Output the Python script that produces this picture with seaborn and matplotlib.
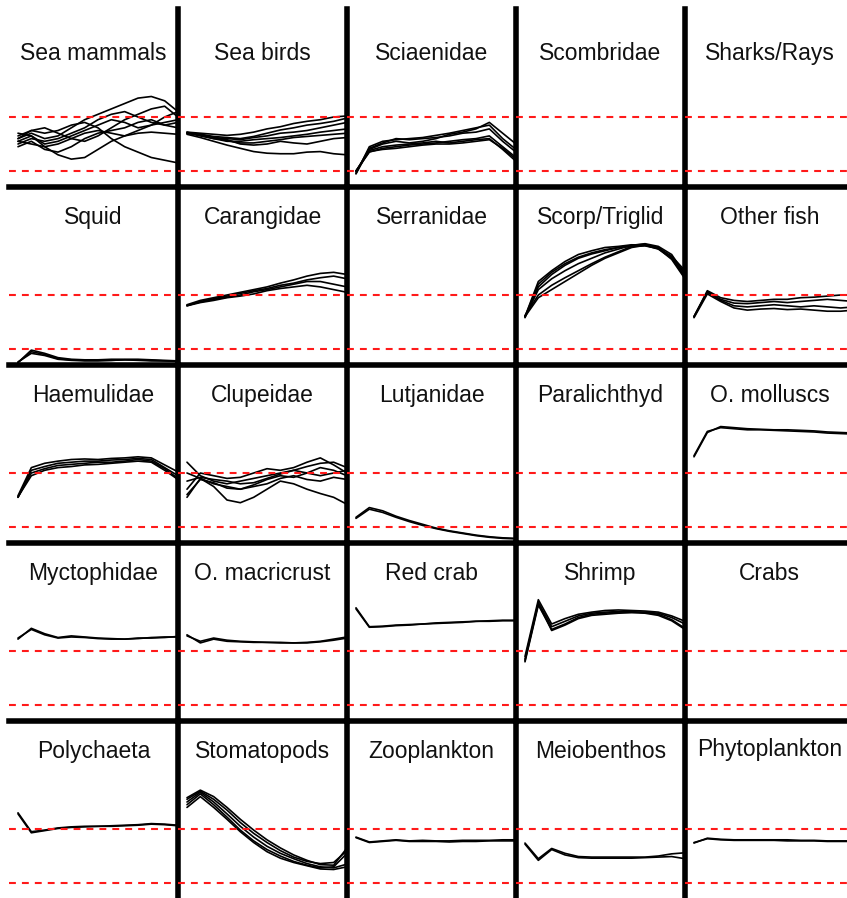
import matplotlib
matplotlib.use('Agg')
import matplotlib.pyplot as plt
import seaborn as sns
import pandas as pd

# time steps (x axis)
years = [0, 1, 2, 3, 4, 5, 6, 7, 8, 9, 10, 11, 12]

# relative biomass runs per group (lower dashed line = 0, upper = 1)
sea_mammals = [
    [0.55, 0.65, 0.45, 0.30, 0.22, 0.25, 0.40, 0.55, 0.65, 0.70, 0.72, 0.70, 0.68],
    [0.60, 0.70, 0.60, 0.65, 0.80, 0.95, 1.05, 1.15, 1.25, 1.35, 1.38, 1.30, 1.10],
    [0.65, 0.75, 0.70, 0.75, 0.85, 0.90, 0.80, 0.60, 0.45, 0.35, 0.25, 0.20, 0.15],
    [0.50, 0.60, 0.55, 0.60, 0.70, 0.80, 0.95, 1.05, 1.10, 1.00, 0.90, 0.85, 0.90],
    [0.70, 0.65, 0.50, 0.55, 0.65, 0.75, 0.85, 0.95, 0.90, 0.80, 0.85, 1.00, 1.10],
    [0.45, 0.55, 0.40, 0.35, 0.45, 0.60, 0.70, 0.75, 0.80, 0.90, 0.95, 0.85, 0.80],
    [0.60, 0.75, 0.80, 0.70, 0.60, 0.55, 0.65, 0.80, 0.95, 1.05, 1.15, 1.20, 1.00],
    [0.55, 0.50, 0.45, 0.50, 0.60, 0.70, 0.75, 0.70, 0.65, 0.75, 0.85, 0.90, 0.95],
]
sea_birds = [
    [0.70, 0.68, 0.62, 0.60, 0.58, 0.62, 0.65, 0.70, 0.72, 0.75, 0.80, 0.85, 0.90],
    [0.68, 0.62, 0.55, 0.48, 0.42, 0.36, 0.33, 0.32, 0.32, 0.35, 0.36, 0.32, 0.30],
    [0.72, 0.70, 0.68, 0.66, 0.68, 0.72, 0.78, 0.82, 0.88, 0.92, 0.95, 1.00, 1.02],
    [0.70, 0.65, 0.60, 0.55, 0.55, 0.58, 0.60, 0.62, 0.65, 0.68, 0.72, 0.75, 0.78],
    [0.72, 0.66, 0.60, 0.58, 0.50, 0.48, 0.50, 0.55, 0.52, 0.50, 0.55, 0.60, 0.62],
    [0.70, 0.68, 0.64, 0.62, 0.60, 0.64, 0.70, 0.76, 0.80, 0.85, 0.88, 0.92, 0.98],
    [0.71, 0.67, 0.62, 0.56, 0.52, 0.52, 0.55, 0.58, 0.62, 0.64, 0.66, 0.68, 0.70],
]
sciaenidae = [
    [-0.05, 0.45, 0.55, 0.58, 0.60, 0.62, 0.66, 0.70, 0.75, 0.80, 0.85, 0.60, 0.40],
    [0.00, 0.35, 0.42, 0.45, 0.48, 0.50, 0.52, 0.55, 0.58, 0.60, 0.65, 0.45, 0.25],
    [-0.05, 0.40, 0.50, 0.55, 0.52, 0.55, 0.60, 0.68, 0.72, 0.78, 0.90, 0.70, 0.50],
    [0.00, 0.38, 0.45, 0.48, 0.50, 0.52, 0.55, 0.52, 0.55, 0.58, 0.60, 0.40, 0.18],
    [-0.02, 0.42, 0.52, 0.60, 0.58, 0.60, 0.62, 0.65, 0.70, 0.72, 0.78, 0.55, 0.35],
    [0.00, 0.36, 0.40, 0.42, 0.45, 0.48, 0.50, 0.50, 0.52, 0.55, 0.58, 0.42, 0.22],
]
squid = [
    [-0.25, -0.05, -0.10, -0.18, -0.20, -0.21, -0.21, -0.21, -0.20, -0.20, -0.21, -0.22, -0.22],
    [-0.25, -0.02, -0.08, -0.16, -0.19, -0.20, -0.20, -0.19, -0.19, -0.19, -0.20, -0.21, -0.22],
    [-0.24, -0.08, -0.12, -0.19, -0.21, -0.22, -0.22, -0.21, -0.20, -0.21, -0.22, -0.22, -0.23],
]
carangidae = [
    [0.80, 0.88, 0.93, 0.98, 1.03, 1.08, 1.12, 1.18, 1.22, 1.28, 1.32, 1.35, 1.30],
    [0.82, 0.90, 0.95, 1.00, 1.05, 1.10, 1.15, 1.22, 1.28, 1.35, 1.40, 1.42, 1.38],
    [0.80, 0.86, 0.90, 0.95, 0.98, 1.02, 1.08, 1.12, 1.15, 1.18, 1.15, 1.10, 1.05],
    [0.81, 0.87, 0.92, 0.96, 1.00, 1.06, 1.10, 1.15, 1.20, 1.25, 1.25, 1.20, 1.15],
]
scorp_triglid = [
    [0.60, 1.10, 1.30, 1.45, 1.58, 1.68, 1.78, 1.85, 1.92, 1.94, 1.88, 1.70, 1.40],
    [0.60, 1.25, 1.45, 1.62, 1.75, 1.82, 1.88, 1.90, 1.93, 1.92, 1.85, 1.68, 1.32],
    [0.62, 1.00, 1.18, 1.32, 1.45, 1.58, 1.70, 1.80, 1.90, 1.93, 1.86, 1.72, 1.45],
    [0.58, 1.15, 1.38, 1.55, 1.68, 1.76, 1.82, 1.88, 1.92, 1.95, 1.90, 1.75, 1.38],
    [0.60, 0.95, 1.10, 1.25, 1.40, 1.55, 1.68, 1.78, 1.88, 1.92, 1.87, 1.70, 1.35],
    [0.60, 1.20, 1.42, 1.58, 1.70, 1.78, 1.84, 1.88, 1.90, 1.91, 1.86, 1.66, 1.30],
]
other_fish = [
    [0.60, 1.08, 0.95, 0.90, 0.88, 0.90, 0.92, 0.92, 0.95, 0.96, 0.98, 1.00, 1.00],
    [0.60, 1.05, 0.90, 0.80, 0.78, 0.80, 0.82, 0.80, 0.78, 0.80, 0.78, 0.76, 0.78],
    [0.58, 1.02, 0.88, 0.76, 0.72, 0.74, 0.75, 0.73, 0.74, 0.72, 0.70, 0.70, 0.72],
    [0.60, 1.06, 0.92, 0.85, 0.84, 0.86, 0.88, 0.86, 0.88, 0.90, 0.92, 0.90, 0.88],
]
haemulidae = [
    [0.55, 1.05, 1.12, 1.18, 1.20, 1.22, 1.22, 1.24, 1.25, 1.27, 1.25, 1.10, 0.95],
    [0.56, 0.95, 1.05, 1.10, 1.12, 1.15, 1.16, 1.18, 1.20, 1.22, 1.20, 1.05, 0.88],
    [0.58, 1.10, 1.18, 1.22, 1.25, 1.26, 1.25, 1.27, 1.28, 1.30, 1.28, 1.15, 1.02],
    [0.55, 1.00, 1.08, 1.14, 1.16, 1.18, 1.20, 1.20, 1.22, 1.25, 1.22, 1.08, 0.90],
]
clupeidae = [
    [1.20, 0.95, 0.85, 0.80, 0.85, 0.90, 0.95, 1.00, 1.05, 1.00, 0.95, 1.00, 1.05],
    [0.55, 0.90, 0.75, 0.50, 0.45, 0.55, 0.70, 0.85, 0.80, 0.70, 0.62, 0.55, 0.42],
    [0.70, 1.00, 0.95, 0.90, 0.92, 1.00, 1.08, 1.05, 1.10, 1.20, 1.28, 1.15, 1.00],
    [1.00, 0.90, 0.80, 0.75, 0.70, 0.78, 0.88, 0.95, 0.92, 1.00, 1.10, 1.05, 0.95],
    [0.85, 0.92, 0.88, 0.85, 0.80, 0.82, 0.90, 0.98, 1.05, 1.12, 1.18, 1.20, 1.10],
    [0.60, 0.88, 0.82, 0.72, 0.70, 0.75, 0.80, 0.90, 0.95, 0.88, 0.85, 0.92, 0.88],
]
lutjanidae = [
    [0.18, 0.36, 0.30, 0.20, 0.12, 0.05, -0.02, -0.07, -0.11, -0.15, -0.18, -0.20, -0.21],
    [0.16, 0.33, 0.27, 0.18, 0.10, 0.03, -0.03, -0.08, -0.12, -0.16, -0.19, -0.21, -0.22],
]
o_molluscs = [
    [1.30, 1.75, 1.86, 1.84, 1.82, 1.81, 1.80, 1.80, 1.79, 1.78, 1.76, 1.75, 1.74],
    [1.32, 1.77, 1.84, 1.82, 1.80, 1.80, 1.79, 1.78, 1.77, 1.76, 1.74, 1.73, 1.72],
]
myctophidae = [
    [1.22, 1.42, 1.32, 1.25, 1.28, 1.26, 1.24, 1.23, 1.22, 1.23, 1.25, 1.26, 1.26],
    [1.24, 1.40, 1.30, 1.24, 1.26, 1.25, 1.23, 1.22, 1.22, 1.24, 1.24, 1.25, 1.27],
]
o_macricrust = [
    [1.30, 1.15, 1.22, 1.18, 1.17, 1.16, 1.16, 1.16, 1.15, 1.16, 1.18, 1.22, 1.26],
    [1.28, 1.18, 1.24, 1.20, 1.18, 1.17, 1.16, 1.15, 1.15, 1.15, 1.17, 1.20, 1.24],
]
red_crab = [
    [1.80, 1.45, 1.46, 1.48, 1.49, 1.50, 1.52, 1.53, 1.54, 1.55, 1.56, 1.57, 1.57],
    [1.78, 1.44, 1.45, 1.47, 1.48, 1.50, 1.51, 1.52, 1.53, 1.55, 1.55, 1.56, 1.56],
]
shrimp = [
    [0.85, 1.90, 1.45, 1.55, 1.65, 1.70, 1.72, 1.73, 1.72, 1.72, 1.70, 1.62, 1.50],
    [0.80, 1.85, 1.40, 1.50, 1.62, 1.68, 1.70, 1.72, 1.73, 1.71, 1.68, 1.58, 1.42],
    [0.90, 1.95, 1.50, 1.60, 1.68, 1.72, 1.75, 1.76, 1.75, 1.74, 1.72, 1.65, 1.55],
    [0.82, 1.88, 1.38, 1.48, 1.60, 1.66, 1.68, 1.70, 1.71, 1.70, 1.66, 1.56, 1.40],
]
polychaeta = [
    [1.30, 0.95, 0.98, 1.02, 1.04, 1.05, 1.05, 1.06, 1.07, 1.08, 1.10, 1.09, 1.07],
    [1.28, 0.93, 0.97, 1.01, 1.03, 1.04, 1.05, 1.05, 1.06, 1.07, 1.09, 1.08, 1.06],
]
stomatopods = [
    [1.55, 1.70, 1.55, 1.35, 1.12, 0.92, 0.75, 0.60, 0.48, 0.40, 0.36, 0.38, 0.60],
    [1.45, 1.65, 1.45, 1.22, 0.98, 0.78, 0.62, 0.50, 0.40, 0.33, 0.28, 0.30, 0.55],
    [1.50, 1.68, 1.50, 1.28, 1.05, 0.85, 0.68, 0.55, 0.45, 0.36, 0.30, 0.28, 0.35],
    [1.58, 1.72, 1.60, 1.40, 1.18, 0.98, 0.80, 0.65, 0.52, 0.42, 0.34, 0.33, 0.65],
    [1.40, 1.60, 1.40, 1.18, 0.95, 0.75, 0.58, 0.46, 0.38, 0.32, 0.26, 0.25, 0.30],
]
zooplankton = [
    [0.85, 0.76, 0.78, 0.80, 0.78, 0.79, 0.78, 0.78, 0.79, 0.79, 0.79, 0.80, 0.80],
    [0.84, 0.75, 0.77, 0.79, 0.77, 0.77, 0.77, 0.76, 0.77, 0.77, 0.78, 0.78, 0.78],
]
meiobenthos = [
    [0.74, 0.45, 0.64, 0.55, 0.49, 0.48, 0.48, 0.48, 0.48, 0.48, 0.50, 0.54, 0.56],
    [0.72, 0.42, 0.62, 0.52, 0.47, 0.46, 0.46, 0.46, 0.46, 0.47, 0.48, 0.49, 0.45],
]
phytoplankton = [
    [0.74, 0.83, 0.81, 0.80, 0.80, 0.80, 0.80, 0.80, 0.79, 0.79, 0.78, 0.78, 0.78],
    [0.75, 0.82, 0.80, 0.79, 0.79, 0.79, 0.79, 0.78, 0.78, 0.78, 0.77, 0.77, 0.77],
]

titles = [
    'Sea mammals', 'Sea birds', 'Sciaenidae', 'Scombridae', 'Sharks/Rays',
    'Squid', 'Carangidae', 'Serranidae', 'Scorp/Triglid', 'Other fish',
    'Haemulidae', 'Clupeidae', 'Lutjanidae', 'Paralichthyd', 'O. molluscs',
    'Myctophidae', 'O. macricrust', 'Red crab', 'Shrimp', 'Crabs',
    'Polychaeta', 'Stomatopods', 'Zooplankton', 'Meiobenthos', 'Phytoplankton',
]
runs = [
    sea_mammals, sea_birds, sciaenidae, [], [],
    squid, carangidae, [], scorp_triglid, other_fish,
    haemulidae, clupeidae, lutjanidae, [], o_molluscs,
    myctophidae, o_macricrust, red_crab, shrimp, [],
    polychaeta, stomatopods, zooplankton, meiobenthos, phytoplankton,
]

sns.set_style('white')
plt.rcParams['font.family'] = ['Liberation Sans', 'DejaVu Sans']

W, H = 847, 898
fig = plt.figure(figsize=(W / 100, H / 100), dpi=100)
fig.patch.set_facecolor('white')

x0, y0, cw, rh = 9, 9, 169, 178
title_y = [0.75, 0.83, 0.83, 0.83, 0.83]

for i, (name, group) in enumerate(zip(titles, runs)):
    r, c = divmod(i, 5)
    ax = fig.add_axes([(x0 + cw * c) / W, 1 - (y0 + rh * (r + 1)) / H, cw / W, rh / H])
    if group:
        df = pd.DataFrame([(k, t, v) for k, run in enumerate(group) for t, v in zip(years, run)],
                          columns=['run', 'year', 'biomass'])
        sns.lineplot(data=df, x='year', y='biomass', units='run', estimator=None,
                     color='black', lw=1.2, ax=ax, legend=False)
    ax.axhline(0, color='#ff1a1a', lw=1.5, ls=(0, (3.3, 2.9)), zorder=3)
    ax.axhline(1, color='#ff1a1a', lw=1.5, ls=(0, (3.3, 2.9)), zorder=3)
    ax.set_xlim(-0.675, 12)
    ax.set_ylim(-0.296, 3.0)
    ax.set_xticks([])
    ax.set_yticks([])
    ax.set_xlabel('')
    ax.set_ylabel('')
    ax.patch.set_alpha(0)
    for side in ['right', 'bottom', 'left', 'top']:
        ax.spines[side].set_visible(False)
    if c > 0:
        ax.spines['left'].set_visible(True)
    if r > 0:
        ax.spines['top'].set_visible(True)
    for side in ['left', 'top']:
        ax.spines[side].set_color('black')
        ax.spines[side].set_linewidth(4)
    if name == 'Phytoplankton':
        # the last column is cut by the image edge, so this label sits left
        ax.text(0.07, title_y[r] + 0.01, name, transform=ax.transAxes, ha='left',
                va='center', fontsize=16.5, color='#111111')
    else:
        ax.text(0.5, title_y[r], name, transform=ax.transAxes, ha='center', va='center',
                fontsize=16.5, color='#111111')

fig.savefig('out.png', dpi=100, facecolor='white')
